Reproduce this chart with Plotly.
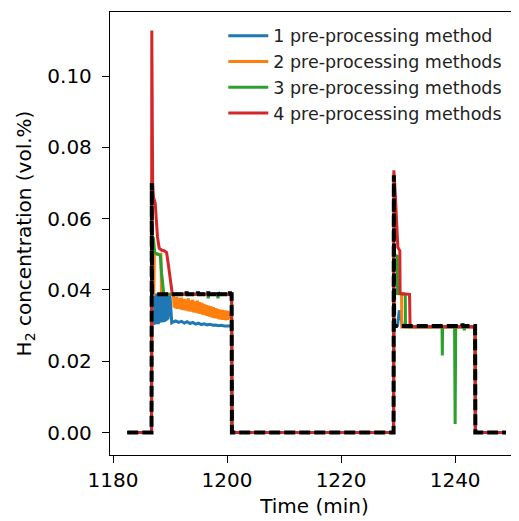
import plotly.graph_objects as go

# ---------------- data ----------------
# Reference signal (black dashed)
t_ref = [1182.5, 1186.75, 1186.8, 1186.85, 1192.8, 1192.9, 1193.0, 1194.8, 1194.9, 1195.0,
         1196.6, 1196.7, 1196.8, 1198.3, 1198.4, 1198.5, 1200.4, 1200.5, 1200.6, 1200.8,
         1200.85, 1229.2, 1229.25, 1229.3, 1241.2, 1241.3, 1241.4, 1243.5, 1243.55, 1248.9]
h2_ref = [0.0, 0.0, 0.0700, 0.0388, 0.0388, 0.0395, 0.0388, 0.0388, 0.0395, 0.0388,
          0.0388, 0.0395, 0.0388, 0.0388, 0.0395, 0.0388, 0.0388, 0.0395, 0.0388, 0.0388,
          0.0, 0.0, 0.0722, 0.0299, 0.0299, 0.0305, 0.0299, 0.0299, 0.0, 0.0]

# 1 pre-processing method (blue)
t_1 = [1182.5, 1186.75,
       1186.80, 1186.85, 1186.90, 1186.95, 1187.00, 1187.05, 1187.10, 1187.15, 1187.20, 1187.25,
       1187.30, 1187.35, 1187.40, 1187.45, 1187.50, 1187.55, 1187.60, 1187.65, 1187.70, 1187.75,
       1187.80, 1187.85, 1187.90, 1187.95, 1188.00, 1188.05, 1188.10, 1188.15, 1188.20, 1188.25,
       1188.30, 1188.35, 1188.40, 1188.45, 1188.50, 1188.55, 1188.60, 1188.65, 1188.70, 1188.75,
       1188.80, 1188.85, 1188.90, 1188.95, 1189.00, 1189.05, 1189.10, 1189.15, 1189.20, 1189.25,
       1189.30, 1189.35, 1189.40, 1189.45, 1189.50, 1189.55, 1189.60, 1189.65, 1189.70, 1189.75,
       1189.80, 1189.85, 1189.90, 1189.95, 1190.00, 1190.10, 1190.20, 1190.30,
       1190.5, 1191.0, 1191.5, 1192.0, 1192.5, 1193.0, 1193.5, 1194.0, 1194.5, 1195.0,
       1195.5, 1196.0, 1196.5, 1197.0, 1197.5, 1198.0, 1198.5, 1199.0, 1199.5, 1200.0,
       1200.5, 1200.8, 1200.85,
       1229.2, 1229.25, 1229.9, 1230.2, 1230.4, 1230.7, 1230.8, 1243.5, 1243.55, 1248.9]
h2_1 = [0.0, 0.0,
        0.0387, 0.0306, 0.0385, 0.0303, 0.0388, 0.0312, 0.0386, 0.0302, 0.0388, 0.0309,
        0.0387, 0.0305, 0.0384, 0.0311, 0.0388, 0.0304, 0.0386, 0.0313, 0.0388, 0.0307,
        0.0385, 0.0310, 0.0388, 0.0304, 0.0387, 0.0312, 0.0385, 0.0308, 0.0388, 0.0314,
        0.0387, 0.0310, 0.0386, 0.0316, 0.0388, 0.0309, 0.0385, 0.0313, 0.0387, 0.0318,
        0.0388, 0.0311, 0.0384, 0.0316, 0.0387, 0.0312, 0.0386, 0.0319, 0.0388, 0.0314,
        0.0385, 0.0320, 0.0387, 0.0316, 0.0384, 0.0322, 0.0386, 0.0318, 0.0388, 0.0326,
        0.0387, 0.0333, 0.0388, 0.0348, 0.0382, 0.0345, 0.0318, 0.0308,
        0.0310, 0.0313, 0.0309, 0.0312, 0.0307, 0.0311, 0.0306, 0.0309, 0.0304, 0.0307,
        0.0303, 0.0305, 0.0302, 0.0304, 0.0301, 0.0302, 0.0300, 0.0301, 0.0299, 0.0300,
        0.0299, 0.0299, 0.0,
        0.0, 0.0297, 0.0300, 0.0343, 0.0330, 0.0300, 0.0297, 0.0297, 0.0, 0.0]

# 2 pre-processing methods (orange)
t_2 = [1182.5, 1186.75, 1186.8, 1187.15, 1187.25, 1188.4, 1188.5, 1190.5,
       1190.6, 1190.7, 1190.8, 1190.9, 1191.0, 1191.1, 1191.2, 1191.3, 1191.4, 1191.5,
       1191.6, 1191.7, 1191.8, 1191.9, 1192.0, 1192.1, 1192.2, 1192.3, 1192.4, 1192.5,
       1192.6, 1192.7, 1192.8, 1192.9, 1193.0, 1193.1, 1193.2, 1193.3, 1193.4, 1193.5,
       1193.6, 1193.7, 1193.8, 1193.9, 1194.0, 1194.1, 1194.2, 1194.3, 1194.4, 1194.5,
       1194.6, 1194.7, 1194.8, 1194.9, 1195.0, 1195.1, 1195.2, 1195.3, 1195.4, 1195.5,
       1195.6, 1195.7, 1195.8, 1195.9, 1196.0, 1196.1, 1196.2, 1196.3, 1196.4, 1196.5,
       1196.6, 1196.7, 1196.8, 1196.9, 1197.0, 1197.1, 1197.2, 1197.3, 1197.4, 1197.5,
       1197.6, 1197.7, 1197.8, 1197.9, 1198.0, 1198.1, 1198.2, 1198.3, 1198.4, 1198.5,
       1198.6, 1198.7, 1198.8, 1198.9, 1199.0, 1199.1, 1199.2, 1199.3, 1199.4, 1199.5,
       1199.6, 1199.7, 1199.8, 1199.9, 1200.0, 1200.1, 1200.2, 1200.3, 1200.4, 1200.5,
       1200.6, 1200.7, 1200.8, 1200.85,
       1229.2, 1229.25, 1230.6, 1230.65, 1243.5, 1243.55, 1248.9]
h2_2 = [0.0, 0.0, 0.0388, 0.0388, 0.0500, 0.0500, 0.0388, 0.0388,
        0.0385, 0.0352, 0.0380, 0.0348, 0.0376, 0.0355, 0.0381, 0.0347, 0.0372, 0.0350,
        0.0378, 0.0346, 0.0370, 0.0352, 0.0379, 0.0344, 0.0368, 0.0349, 0.0375, 0.0343,
        0.0366, 0.0351, 0.0374, 0.0342, 0.0369, 0.0347, 0.0377, 0.0340, 0.0365, 0.0348,
        0.0371, 0.0339, 0.0362, 0.0345, 0.0373, 0.0337, 0.0360, 0.0346, 0.0368, 0.0336,
        0.0359, 0.0343, 0.0370, 0.0334, 0.0357, 0.0341, 0.0366, 0.0333, 0.0355, 0.0340,
        0.0364, 0.0331, 0.0352, 0.0338, 0.0361, 0.0329, 0.0350, 0.0336, 0.0358, 0.0327,
        0.0348, 0.0334, 0.0356, 0.0325, 0.0346, 0.0332, 0.0354, 0.0323, 0.0344, 0.0330,
        0.0352, 0.0321, 0.0342, 0.0328, 0.0349, 0.0320, 0.0340, 0.0326, 0.0347, 0.0318,
        0.0338, 0.0324, 0.0345, 0.0317, 0.0337, 0.0323, 0.0344, 0.0316, 0.0336, 0.0322,
        0.0343, 0.0315, 0.0335, 0.0321, 0.0342, 0.0316, 0.0334, 0.0320, 0.0340, 0.0318,
        0.0337, 0.0325, 0.0330, 0.0,
        0.0, 0.0390, 0.0390, 0.0296, 0.0296, 0.0, 0.0]

# 3 pre-processing methods (green)
t_3 = [1182.5, 1186.75, 1186.8, 1187.1, 1187.3, 1188.3, 1188.5, 1188.9,
       1196.6, 1196.7, 1196.8, 1198.3, 1198.4, 1198.5, 1200.8, 1200.85,
       1229.2, 1229.25, 1229.85, 1229.9, 1231.25, 1231.3, 1237.7, 1237.75, 1237.8,
       1239.9, 1240.0, 1240.1, 1241.5, 1241.6, 1241.7, 1243.5, 1243.55, 1248.9]
h2_3 = [0.0, 0.0, 0.0550, 0.0545, 0.0505, 0.0497, 0.0450, 0.0388,
        0.0388, 0.0377, 0.0388, 0.0388, 0.0377, 0.0388, 0.0388, 0.0,
        0.0, 0.0500, 0.0495, 0.0390, 0.0388, 0.0297, 0.0297, 0.0216, 0.0297,
        0.0297, 0.0024, 0.0297, 0.0297, 0.0287, 0.0297, 0.0297, 0.0, 0.0]

# 4 pre-processing methods (red)
t_4 = [1182.5, 1186.75, 1186.8, 1186.95, 1187.1, 1187.4, 1187.6, 1187.8, 1188.1,
       1188.5, 1189.0, 1189.4, 1189.8, 1190.1, 1190.4, 1200.8, 1200.85,
       1229.2, 1229.25, 1229.5, 1229.75, 1229.95, 1230.3, 1230.35, 1232.0, 1232.1,
       1243.5, 1243.55, 1248.9]
h2_4 = [0.0, 0.0, 0.1128, 0.0700, 0.0660, 0.0643, 0.0596, 0.0549, 0.0517,
        0.0512, 0.0510, 0.0505, 0.0460, 0.0420, 0.0388, 0.0388, 0.0,
        0.0, 0.0736, 0.0670, 0.0577, 0.0520, 0.0510, 0.0390, 0.0388, 0.0297,
        0.0297, 0.0, 0.0]

series_names = ["1 pre-processing method", "2 pre-processing methods",
                "3 pre-processing methods", "4 pre-processing methods"]
series_colors = ["#1f77b4", "#ff7f0e", "#2ca02c", "#d62728"]

y_ticks = [0.00, 0.02, 0.04, 0.06, 0.08, 0.10]
x_ticks = [1180, 1200, 1220, 1240]

# ---------------- figure ----------------
# The page body adds an 8px margin, so the figure is 8px smaller than the window.
FONT = "DejaVu Sans"
fig = go.Figure()
for i, (tx, hy) in enumerate([(t_1, h2_1), (t_2, h2_2), (t_3, h2_3), (t_4, h2_4)]):
    fig.add_trace(go.Scatter(x=tx, y=hy, mode="lines", name=series_names[i],
                             line=dict(color=series_colors[i], width=3),
                             legendgroup=f"g{i}"))
fig.add_trace(go.Scatter(x=t_ref, y=h2_ref, mode="lines", showlegend=False,
                         line=dict(color="black", width=4, dash="11px,4px")))

fig.update_layout(
    width=511, height=513,
    margin=dict(l=102, r=0, t=4, b=66),
    paper_bgcolor="white", plot_bgcolor="white",
    font=dict(family=FONT, size=20, color="black"),
    showlegend=True,
    legend=dict(x=0.277, y=0.987, xanchor="left", yanchor="top",
                bgcolor="rgba(0,0,0,0)", borderwidth=0,
                font=dict(family=FONT, size=17.5, color="#222"),
                tracegroupgap=0, itemwidth=40),
)
fig.update_xaxes(range=[1179.47, 1251.2], tickvals=x_ticks, automargin=False,
                 showline=True, linecolor="black", linewidth=1.3, mirror=True,
                 ticks="outside", ticklen=7, tickwidth=1.3, tickcolor="black",
                 showgrid=False, zeroline=False,
                 tickfont=dict(family=FONT, size=20),
                 title=dict(text="Time (min)", font=dict(family=FONT, size=20), standoff=7))
fig.update_yaxes(range=[-0.0063, 0.118], tickvals=y_ticks, tickformat=".2f",
                 automargin=False,
                 showline=True, linecolor="black", linewidth=1.3, mirror=False,
                 ticks="outside", ticklen=7, tickwidth=1.3, tickcolor="black",
                 showgrid=False, zeroline=False, ticklabelstandoff=6,
                 tickfont=dict(family=FONT, size=20),
                 title=dict(text="H<sub>2</sub> concentration (vol.%)",
                            font=dict(family=FONT, size=20), standoff=10))

fig.write_html("out.html")
